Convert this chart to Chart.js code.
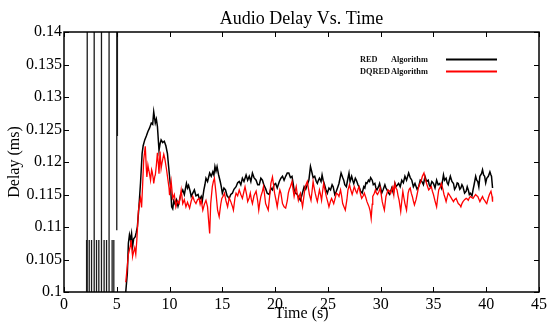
<!DOCTYPE html>
<html>
<head>
<meta charset="utf-8">
<script src="https://cdn.jsdelivr.net/npm/chart.js@4/dist/chart.umd.min.js"></script>
<style>
  body { margin: 0; background: #fff; }
</style>
</head>
<body>
<canvas id="myChart" width="550" height="322"></canvas>
<script>
// tick labels / axes
const xTicks = [0, 5, 10, 15, 20, 25, 30, 35, 40, 45];
const yTicks = [0.1, 0.105, 0.11, 0.115, 0.12, 0.125, 0.13, 0.135, 0.14];
const seriesNames = ["RED", "DQRED"];

// early bursts of the RED run (vertical spikes between 2 and 5 s)
const burstTime = [2.14, 2.2, 2.39, 2.61, 2.86, 3.08, 3.3, 3.55, 3.8, 4.03, 4.27, 4.56, 4.72, 5.0, 5.06];
const burstLow  = [0.1, 0.1, 0.1, 0.1, 0.1, 0.1, 0.1, 0.1, 0.1, 0.1, 0.1, 0.1, 0.1, 0.1095, 0.124];
const burstHigh = [0.108, 0.14, 0.108, 0.108, 0.14, 0.108, 0.108, 0.14, 0.108, 0.108, 0.14, 0.108, 0.108, 0.14, 0.14];

// RED Algorithm (black)
const redTime = [5.85, 6.0, 6.1, 6.2, 6.3, 6.4, 6.5, 6.6, 6.75, 6.85, 6.95, 7.1, 7.25, 7.4, 7.5, 7.65, 7.8, 7.95, 8.1, 8.27,
  8.4, 8.5, 8.65, 8.75, 8.85, 9.0, 9.1, 9.2, 9.35, 9.5, 9.65, 9.8, 9.9, 10.0, 10.1, 10.2, 10.3, 10.4, 10.5, 10.65,
  10.8, 10.9, 11.05, 11.25, 11.4, 11.6, 11.7, 11.8, 11.95, 12.05, 12.2, 12.35, 12.5, 12.7, 12.85, 13.0, 13.1, 13.25, 13.35, 13.45,
  13.6, 13.8, 13.95, 14.1, 14.2, 14.3, 14.4, 14.5, 14.65, 14.8, 14.9, 15.0, 15.15, 15.3, 15.45, 15.65, 15.8, 15.95, 16.1, 16.3,
  16.45, 16.6, 16.75, 16.9, 17.05, 17.25, 17.4, 17.55, 17.7, 17.85, 18.0, 18.2, 18.35, 18.5, 18.65, 18.8, 18.95, 19.1, 19.25, 19.45,
  19.6, 19.75, 19.9, 20.05, 20.2, 20.4, 20.55, 20.7, 20.85, 21.0, 21.15, 21.3, 21.45, 21.6, 21.7, 21.8, 21.95, 22.1, 22.25, 22.4,
  22.55, 22.75, 22.9, 23.05, 23.2, 23.35, 23.5, 23.6, 23.75, 23.9, 24.0, 24.1, 24.2, 24.35, 24.45, 24.55, 24.65, 24.8, 24.95, 25.1,
  25.25, 25.4, 25.5, 25.65, 25.8, 25.95, 26.05, 26.15, 26.25, 26.4, 26.5, 26.6, 26.75, 26.9, 27.0, 27.1, 27.25, 27.35, 27.45, 27.6,
  27.7, 27.85, 28.0, 28.1, 28.25, 28.4, 28.5, 28.6, 28.7, 28.85, 28.95, 29.05, 29.2, 29.3, 29.45, 29.55, 29.65, 29.8, 29.9, 30.0,
  30.1, 30.25, 30.4, 30.5, 30.6, 30.75, 30.85, 30.95, 31.05, 31.2, 31.35, 31.45, 31.6, 31.7, 31.85, 32.0, 32.15, 32.3, 32.45, 32.65,
  32.8, 32.95, 33.1, 33.25, 33.45, 33.6, 33.75, 33.9, 34.05, 34.2, 34.35, 34.5, 34.6, 34.7, 34.85, 35.0, 35.15, 35.3, 35.45, 35.6,
  35.75, 35.95, 36.05, 36.2, 36.3, 36.4, 36.5, 36.6, 36.75, 36.9, 37.0, 37.15, 37.25, 37.35, 37.5, 37.6, 37.7, 37.8, 37.95, 38.1,
  38.2, 38.3, 38.4, 38.5, 38.65, 38.75, 38.85, 39.0, 39.1, 39.2, 39.3, 39.4, 39.55, 39.65, 39.75, 39.85, 39.95, 40.05, 40.2, 40.35,
  40.45, 40.5, 40.6];
const redDelay = [0.1000, 0.1029, 0.1075, 0.1088, 0.1080, 0.1090, 0.1070, 0.1082, 0.1085, 0.1092, 0.1100, 0.1131, 0.1168, 0.1213, 0.1225, 0.1234, 0.1240, 0.1247, 0.1252, 0.1260,
  0.1258, 0.1277, 0.1260, 0.1266, 0.1255, 0.1218, 0.1228, 0.1234, 0.1230, 0.1232, 0.1225, 0.1213, 0.1195, 0.1178, 0.1160, 0.1131, 0.1128, 0.1140, 0.1136, 0.1142,
  0.1132, 0.1138, 0.1150, 0.1157, 0.1150, 0.1167, 0.1160, 0.1164, 0.1155, 0.1147, 0.1152, 0.1157, 0.1148, 0.1150, 0.1142, 0.1147, 0.1140, 0.1157, 0.1165, 0.1175,
  0.1170, 0.1183, 0.1178, 0.1185, 0.1180, 0.1193, 0.1186, 0.1193, 0.1180, 0.1170, 0.1162, 0.1152, 0.1160, 0.1157, 0.1148, 0.1144, 0.1150, 0.1152, 0.1158, 0.1162,
  0.1168, 0.1170, 0.1165, 0.1175, 0.1170, 0.1180, 0.1172, 0.1178, 0.1170, 0.1183, 0.1176, 0.1172, 0.1165, 0.1165, 0.1175, 0.1172, 0.1164, 0.1159, 0.1152, 0.1150,
  0.1160, 0.1157, 0.1165, 0.1167, 0.1160, 0.1170, 0.1175, 0.1178, 0.1172, 0.1178, 0.1183, 0.1183, 0.1176, 0.1178, 0.1168, 0.1157, 0.1152, 0.1150, 0.1145, 0.1141,
  0.1150, 0.1162, 0.1158, 0.1165, 0.1172, 0.1193, 0.1183, 0.1176, 0.1178, 0.1170, 0.1167, 0.1172, 0.1175, 0.1170, 0.1180, 0.1172, 0.1167, 0.1158, 0.1152, 0.1160,
  0.1157, 0.1165, 0.1162, 0.1150, 0.1155, 0.1162, 0.1167, 0.1175, 0.1183, 0.1176, 0.1172, 0.1165, 0.1162, 0.1175, 0.1183, 0.1170, 0.1178, 0.1172, 0.1167, 0.1175,
  0.1172, 0.1165, 0.1160, 0.1155, 0.1152, 0.1162, 0.1160, 0.1168, 0.1167, 0.1172, 0.1170, 0.1176, 0.1172, 0.1165, 0.1167, 0.1160, 0.1157, 0.1162, 0.1167, 0.1160,
  0.1152, 0.1158, 0.1165, 0.1160, 0.1157, 0.1152, 0.1150, 0.1155, 0.1160, 0.1152, 0.1167, 0.1162, 0.1165, 0.1167, 0.1162, 0.1172, 0.1168, 0.1178, 0.1172, 0.1183,
  0.1176, 0.1172, 0.1162, 0.1167, 0.1158, 0.1162, 0.1172, 0.1170, 0.1165, 0.1178, 0.1170, 0.1172, 0.1165, 0.1162, 0.1170, 0.1167, 0.1160, 0.1172, 0.1165, 0.1167,
  0.1160, 0.1180, 0.1172, 0.1175, 0.1168, 0.1165, 0.1172, 0.1178, 0.1170, 0.1167, 0.1158, 0.1162, 0.1168, 0.1167, 0.1158, 0.1160, 0.1165, 0.1162, 0.1152, 0.1155,
  0.1162, 0.1157, 0.1150, 0.1152, 0.1148, 0.1157, 0.1165, 0.1178, 0.1172, 0.1170, 0.1162, 0.1178, 0.1182, 0.1188, 0.1180, 0.1178, 0.1168, 0.1175, 0.1178, 0.1185,
  0.1180, 0.1178, 0.1160];

// DQRED Algorithm (red)
const dqredTime = [5.85, 6.0, 6.1, 6.2, 6.3, 6.35, 6.45, 6.5, 6.6, 6.7, 6.8, 6.9, 7.05, 7.15, 7.25, 7.35, 7.45, 7.55, 7.7, 7.8,
  7.85, 7.95, 8.0, 8.1, 8.2, 8.3, 8.35, 8.45, 8.5, 8.6, 8.65, 8.75, 8.85, 8.95, 9.0, 9.1, 9.2, 9.3, 9.45, 9.55,
  9.7, 9.85, 9.95, 10.0, 10.15, 10.3, 10.45, 10.6, 10.75, 10.9, 11.0, 11.1, 11.25, 11.4, 11.55, 11.7, 11.9, 12.05, 12.2, 12.35,
  12.5, 12.65, 12.8, 12.9, 13.0, 13.15, 13.3, 13.45, 13.6, 13.7, 13.8, 13.9, 14.05, 14.15, 14.25, 14.4, 14.55, 14.7, 14.85, 14.95,
  15.1, 15.2, 15.35, 15.5, 15.65, 15.8, 15.95, 16.05, 16.2, 16.3, 16.45, 16.6, 16.75, 16.9, 17.05, 17.15, 17.3, 17.4, 17.55, 17.65,
  17.75, 17.85, 18.0, 18.2, 18.35, 18.45, 18.55, 18.65, 18.8, 18.9, 19.0, 19.1, 19.25, 19.35, 19.5, 19.6, 19.75, 19.85, 19.95, 20.1,
  20.2, 20.35, 20.45, 20.55, 20.7, 20.85, 21.0, 21.15, 21.25, 21.35, 21.45, 21.6, 21.7, 21.8, 21.9, 22.0, 22.1, 22.2, 22.3, 22.4,
  22.5, 22.6, 22.75, 22.85, 22.95, 23.05, 23.15, 23.25, 23.4, 23.5, 23.6, 23.7, 23.8, 23.9, 24.0, 24.1, 24.2, 24.3, 24.4, 24.5,
  24.6, 24.75, 24.85, 25.0, 25.1, 25.25, 25.35, 25.45, 25.55, 25.7, 25.8, 25.95, 26.05, 26.2, 26.3, 26.4, 26.55, 26.65, 26.8, 26.9,
  27.05, 27.15, 27.3, 27.4, 27.5, 27.65, 27.75, 27.85, 27.95, 28.1, 28.2, 28.35, 28.45, 28.6, 28.7, 28.8, 28.9, 29.0, 29.1, 29.2,
  29.25, 29.4, 29.5, 29.6, 29.7, 29.85, 29.95, 30.05, 30.15, 30.25, 30.35, 30.5, 30.6, 30.7, 30.85, 30.95, 31.05, 31.15, 31.25, 31.35,
  31.45, 31.55, 31.65, 31.75, 31.9, 32.0, 32.1, 32.2, 32.3, 32.45, 32.6, 32.7, 32.8, 32.9, 33.0, 33.1, 33.2, 33.35, 33.45, 33.6,
  33.75, 33.85, 33.95, 34.1, 34.2, 34.35, 34.45, 34.55, 34.7, 34.8, 34.9, 35.0, 35.15, 35.3, 35.4, 35.5, 35.65, 35.75, 35.9, 36.0,
  36.1, 36.2, 36.3, 36.4, 36.5, 36.6, 36.75, 36.9, 37.0, 37.15, 37.25, 37.35, 37.5, 37.6, 37.7, 37.8, 37.95, 38.1, 38.2, 38.3,
  38.4, 38.5, 38.65, 38.75, 38.9, 39.0, 39.1, 39.2, 39.3, 39.4, 39.55, 39.65, 39.75, 39.85, 39.95, 40.05, 40.2, 40.3, 40.45, 40.55,
  40.6];
const dqredDelay = [0.1015, 0.1040, 0.1058, 0.1065, 0.1072, 0.1080, 0.1062, 0.1055, 0.1062, 0.1068, 0.1058, 0.1080, 0.1125, 0.1137, 0.1145, 0.1130, 0.1165, 0.1203, 0.1224, 0.1190,
  0.1177, 0.1195, 0.1190, 0.1182, 0.1172, 0.1188, 0.1185, 0.1175, 0.1167, 0.1178, 0.1180, 0.1195, 0.1214, 0.1195, 0.1182, 0.1216, 0.1190, 0.1200, 0.1212, 0.1205,
  0.1190, 0.1172, 0.1160, 0.1149, 0.1170, 0.1144, 0.1150, 0.1131, 0.1140, 0.1136, 0.1145, 0.1157, 0.1136, 0.1142, 0.1131, 0.1138, 0.1129, 0.1140, 0.1147, 0.1140,
  0.1136, 0.1142, 0.1144, 0.1135, 0.1141, 0.1126, 0.1135, 0.1141, 0.1131, 0.1110, 0.1090, 0.1136, 0.1162, 0.1170, 0.1175, 0.1152, 0.1126, 0.1116, 0.1135, 0.1144,
  0.1148, 0.1152, 0.1140, 0.1131, 0.1145, 0.1139, 0.1132, 0.1126, 0.1145, 0.1152, 0.1148, 0.1157, 0.1150, 0.1144, 0.1155, 0.1162, 0.1150, 0.1139, 0.1145, 0.1152,
  0.1142, 0.1136, 0.1148, 0.1155, 0.1140, 0.1126, 0.1138, 0.1147, 0.1155, 0.1162, 0.1150, 0.1136, 0.1130, 0.1126, 0.1150, 0.1167, 0.1177, 0.1165, 0.1152, 0.1140,
  0.1131, 0.1148, 0.1157, 0.1152, 0.1136, 0.1131, 0.1129, 0.1140, 0.1152, 0.1158, 0.1162, 0.1170, 0.1158, 0.1147, 0.1155, 0.1162, 0.1150, 0.1141, 0.1148, 0.1152,
  0.1140, 0.1131, 0.1150, 0.1162, 0.1166, 0.1170, 0.1160, 0.1150, 0.1141, 0.1155, 0.1170, 0.1160, 0.1152, 0.1145, 0.1139, 0.1148, 0.1157, 0.1150, 0.1141, 0.1155,
  0.1167, 0.1155, 0.1147, 0.1138, 0.1131, 0.1140, 0.1144, 0.1140, 0.1136, 0.1145, 0.1152, 0.1150, 0.1147, 0.1157, 0.1148, 0.1136, 0.1130, 0.1126, 0.1142, 0.1157,
  0.1165, 0.1158, 0.1150, 0.1156, 0.1162, 0.1155, 0.1152, 0.1158, 0.1162, 0.1150, 0.1144, 0.1148, 0.1152, 0.1145, 0.1139, 0.1135, 0.1131, 0.1125, 0.1113, 0.1135,
  0.1147, 0.1152, 0.1157, 0.1152, 0.1150, 0.1155, 0.1160, 0.1150, 0.1139, 0.1132, 0.1126, 0.1147, 0.1152, 0.1157, 0.1155, 0.1152, 0.1158, 0.1162, 0.1150, 0.1167,
  0.1160, 0.1157, 0.1148, 0.1141, 0.1124, 0.1140, 0.1155, 0.1145, 0.1136, 0.1126, 0.1152, 0.1158, 0.1160, 0.1152, 0.1147, 0.1140, 0.1134, 0.1142, 0.1150, 0.1162,
  0.1168, 0.1172, 0.1178, 0.1183, 0.1175, 0.1167, 0.1162, 0.1157, 0.1160, 0.1162, 0.1155, 0.1150, 0.1140, 0.1131, 0.1145, 0.1157, 0.1162, 0.1167, 0.1158, 0.1150,
  0.1145, 0.1139, 0.1146, 0.1152, 0.1150, 0.1147, 0.1143, 0.1139, 0.1142, 0.1144, 0.1140, 0.1136, 0.1134, 0.1131, 0.1136, 0.1139, 0.1142, 0.1144, 0.1143, 0.1141,
  0.1145, 0.1147, 0.1145, 0.1144, 0.1148, 0.1150, 0.1148, 0.1147, 0.1143, 0.1139, 0.1144, 0.1147, 0.1143, 0.1141, 0.1138, 0.1136, 0.1145, 0.1150, 0.1155, 0.1147,
  0.1139];

const serif = "'Liberation Serif', 'Times New Roman', serif";

function toPoints(times, values) {
    return times.map((t, i) => ({ x: t, y: values[i] }));
}

// every burst is its own vertical segment, split by a null gap
const burstPoints = [];
burstTime.forEach((t, i) => {
    burstPoints.push({ x: t, y: burstLow[i] }, { x: t, y: burstHigh[i] }, { x: t, y: null });
});

// box round the plot, inward ticks on all four sides, and the small legend
const framePlugin = {
    id: "frame",
    afterDraw(chart) {
        const { ctx, chartArea: a, scales: { x, y } } = chart;
        ctx.save();
        ctx.strokeStyle = "#000";
        ctx.lineWidth = 1;
        ctx.beginPath();
        x.ticks.forEach(t => {
            const px = Math.round(x.getPixelForValue(t.value)) + 0.5;
            ctx.moveTo(px, a.bottom); ctx.lineTo(px, a.bottom - 5);
            ctx.moveTo(px, a.top); ctx.lineTo(px, a.top + 5);
        });
        y.ticks.forEach(t => {
            const py = Math.round(y.getPixelForValue(t.value)) + 0.5;
            ctx.moveTo(a.left, py); ctx.lineTo(a.left + 5, py);
            ctx.moveTo(a.right, py); ctx.lineTo(a.right - 5, py);
        });
        ctx.stroke();
        ctx.lineWidth = 1.5;
        ctx.strokeRect(a.left, a.top, a.right - a.left, a.bottom - a.top);

        // legend
        ctx.font = "bold 8.3px " + serif;
        ctx.textBaseline = "middle";
        ctx.fillStyle = "#111";
        const rows = [59.5, 71.5];
        [0, 1].forEach(i => {
            const ds = chart.data.datasets[i];
            ctx.fillText(ds.label, 360, rows[i]);
            ctx.fillText("Algorithm", 391, rows[i]);
            ctx.strokeStyle = ds.borderColor;
            ctx.lineWidth = 2;
            ctx.beginPath();
            ctx.moveTo(446, rows[i]);
            ctx.lineTo(497, rows[i]);
            ctx.stroke();
        });
        ctx.restore();
    }
};

const canvas = document.getElementById("myChart");
const myChart = new Chart(canvas, {
    type: "line",
    data: {
        datasets: [
            {
                label: seriesNames[0],
                data: toPoints(redTime, redDelay),
                borderColor: "#000000",
                borderWidth: 1.5,
                order: 2
            },
            {
                label: seriesNames[1],
                data: toPoints(dqredTime, dqredDelay),
                borderColor: "#ff0000",
                borderWidth: 1.3,
                order: 1
            },
            {
                label: "burst",
                data: burstPoints,
                borderColor: "#1a1a1a",
                borderWidth: 1.3,
                spanGaps: false,
                order: 3
            }
        ]
    },
    options: {
        responsive: false,
        animation: false,
        layout: { padding: { left: 0, right: 9, top: 0, bottom: 0 } },
        elements: { point: { radius: 0 }, line: { tension: 0 } },
        plugins: {
            legend: { display: false },
            tooltip: { enabled: false },
            title: {
                display: true,
                text: "Audio Delay Vs. Time",
                fullSize: false,
                color: "#000",
                font: { family: serif, size: 18, weight: "normal", lineHeight: 1.2 },
                padding: { top: 8, bottom: 2.4 }
            }
        },
        scales: {
            x: {
                type: "linear",
                min: xTicks[0],
                max: xTicks[xTicks.length - 1],
                afterBuildTicks: s => { s.ticks = xTicks.map(v => ({ value: v })); },
                afterFit: s => { s.height = 30; },
                grid: { display: false, drawTicks: false },
                border: { display: false },
                ticks: { color: "#000", padding: 3, maxRotation: 0, font: { family: serif, size: 16 } },
                title: {
                    display: true,
                    text: "Time (s)",
                    color: "#000",
                    font: { family: serif, size: 16, lineHeight: 1 },
                    padding: { top: 0, bottom: 0 }
                }
            },
            y: {
                min: yTicks[0],
                max: yTicks[yTicks.length - 1],
                afterBuildTicks: s => { s.ticks = yTicks.map(v => ({ value: v })); },
                afterFit: s => { s.width = 64; },
                grid: { display: false, drawTicks: false },
                border: { display: false },
                ticks: {
                    color: "#000",
                    padding: 2,
                    font: { family: serif, size: 16 },
                    callback: v => String(Number(v.toFixed(3)))
                },
                title: {
                    display: true,
                    text: "Delay (ms)",
                    color: "#000",
                    font: { family: serif, size: 16, lineHeight: 1 },
                    padding: { top: 7, bottom: 0 }
                }
            }
        }
    },
    plugins: [framePlugin]
});
</script>
</body>
</html>
